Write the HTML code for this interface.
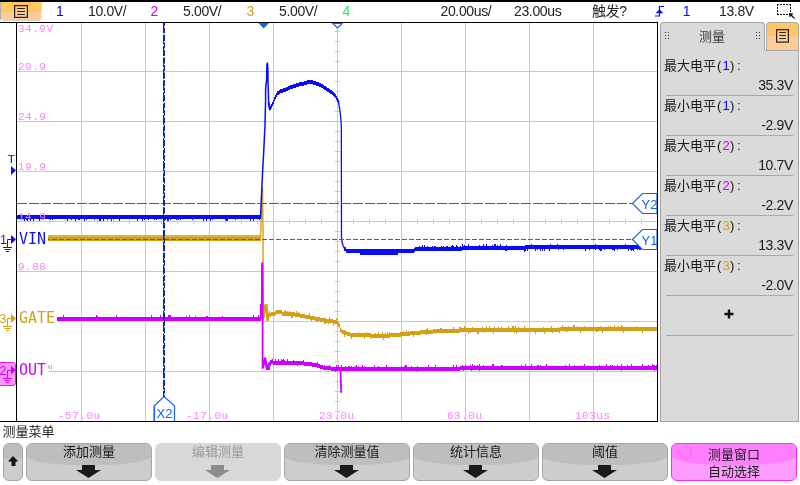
<!DOCTYPE html>
<html><head><meta charset="utf-8">
<style>
*{margin:0;padding:0;box-sizing:border-box}
html,body{width:800px;height:485px;overflow:hidden;background:#fff}
body{position:relative;font-family:"Liberation Sans","Noto Sans CJK SC",sans-serif}
.abs{position:absolute}
.mono{font-family:"Liberation Mono","DejaVu Sans Mono",monospace}
#panel{position:absolute;left:660px;top:50px;width:139px;height:372px;background:#dadada;border:1px solid #a4a4a4;border-top:none}
#tab{position:absolute;left:660px;top:22px;width:105px;height:29px;background:#dadada;border:1px solid #a4a4a4;border-bottom:none;border-radius:4px 4px 0 0}
#tab .t{position:absolute;left:38px;top:3px;font-size:13px;color:#3a3a3a;font-family:"Liberation Sans","Noto Sans CJK SC",sans-serif}
.grip{position:absolute;width:5px;height:8px;top:8px;
 background-image:radial-gradient(circle,#333 0.75px,transparent 0.95px);background-size:3px 3px}
#obtn{position:absolute;left:766px;top:22px;width:33px;height:28px;border:1px solid #a8a8a8;border-bottom:none;border-radius:4px 4px 0 0;
 background:linear-gradient(#ffc862 0,#ffc862 13px,#ffcc99 13px)}
.meas{position:absolute;left:5px;width:127px;height:40px;font-size:13px;color:#1a1a1a}
.meas .l{position:absolute;left:-2px;top:2px;line-height:17px;white-space:nowrap;font-family:"Liberation Sans","Noto Sans CJK SC",sans-serif}
.meas .v{position:absolute;right:0;top:22px;white-space:nowrap;font-size:14px;letter-spacing:-0.35px;line-height:17px}
.meas .sep{position:absolute;left:0;right:0;top:40px;height:1px;background:#a8a8a8}
.hw{display:inline-block;width:6.5px;text-align:center}
.btn{position:absolute;top:443px;width:126px;height:38px;border:1px solid #a6a6a6;border-radius:6px;overflow:hidden;
 background:#cdcdcd}
.btn::before{content:"";position:absolute;left:0;right:0;top:0;height:21px;border-radius:0 0 50px 50px/0 0 9px 9px;background:#bebebe}
.btn .tx{position:absolute;left:0;right:0;top:-3px;text-align:center;font-size:13px;color:#1a1a1a;font-family:"Liberation Sans","Noto Sans CJK SC",sans-serif}
.btn svg{position:absolute;left:50%;margin-left:-13px;top:21px}
.btn.up::before{height:15.5px;border-radius:0 0 9px 9px/0 0 3px 3px}
.btn.dis{border-color:#d8d8d8;background:#d8d8d8}
.btn.dis::before{display:none}
.btn.dis .tx{color:#9a9a9a}
.btn.pink{border-color:#f030f0;background:#ff9cff}
.btn.pink::before{background:#ff80ff}
</style></head><body>
<svg class="abs" style="left:0;top:0;font-family:'Liberation Sans','Noto Sans CJK SC',sans-serif" width="800" height="485" viewBox="0 0 800 485">
<!-- header -->
<rect x="0" y="0" width="800" height="2" fill="#000"/>
<rect x="0" y="22" width="658" height="1" fill="#000"/>
<!-- menu button -->
<path d="M0.5,2 H41.5 V17.5 Q41.5,20 39,20 H3 Q0.5,20 0.5,17.5 Z" fill="#ffcc99"/>
<rect x="0.5" y="2" width="41" height="10" fill="#ffc862"/>
<rect x="0" y="2" width="1" height="18" fill="#b0b0b0"/>
<rect x="2" y="20" width="38" height="1" fill="#d0d0d0"/>
<rect x="14.6" y="5.6" width="12.8" height="11.8" fill="none" stroke="#222" stroke-width="1.2"/>
<rect x="17.2" y="8" width="7.7" height="1" fill="#222"/>
<rect x="17.2" y="11" width="7.7" height="1" fill="#222"/>
<rect x="17.2" y="14" width="7.7" height="1" fill="#222"/>
<g font-size="14" fill="#222" letter-spacing="-0.35">
<text x="56" y="15.7" fill="#0000ff">1</text>
<text x="88" y="15.7">10.0V/</text>
<text x="150.5" y="15.7" fill="#cc00ff">2</text>
<text x="183" y="15.7">5.00V/</text>
<text x="246.5" y="15.7" fill="#d4a017">3</text>
<text x="279" y="15.7">5.00V/</text>
<text x="342.5" y="15.7" fill="#10f060">4</text>
<text x="440.5" y="15.7">20.00us/</text>
<text x="514" y="15.7">23.00us</text>
<text x="592" y="15.7">触发?</text>
<text x="682.8" y="15.7" fill="#0000ff">1</text>
<text x="719" y="15.7">13.8V</text>
</g>
<!-- trigger slope icon -->
<path d="M655,16 H659.5 V6.5 H664" fill="none" stroke="#0a0aff" stroke-width="1.2"/>
<path d="M655.6,13.2 L659.5,9.2 L663.4,13.2 Z" fill="#0a0aff"/>
<!-- zoom box icon -->
<g fill="#111"><rect x="777" y="4" width="2" height="1"/><rect x="777" y="14" width="2" height="1"/><rect x="780" y="4" width="2" height="1"/><rect x="780" y="14" width="2" height="1"/><rect x="783" y="4" width="2" height="1"/><rect x="783" y="14" width="2" height="1"/><rect x="786" y="4" width="2" height="1"/><rect x="786" y="14" width="2" height="1"/><rect x="789" y="4" width="2" height="1"/><rect x="777" y="4" width="1" height="2"/><rect x="777" y="7" width="1" height="2"/><rect x="777" y="10" width="1" height="2"/><rect x="777" y="13" width="1" height="2"/><rect x="790" y="4" width="1" height="2"/><rect x="790" y="7" width="1" height="2"/><rect x="790" y="10" width="1" height="2"/><path d="M789,13 L793.6,13.4 L789.4,17.6 Z"/></g>
<path d="M791,15 L794.6,18.6" stroke="#111" stroke-width="1.3"/>
<!-- graticule -->
<rect x="16" y="22" width="1" height="400" fill="#000"/>
<rect x="657" y="22" width="1" height="400" fill="#000"/>
<rect x="0" y="421" width="658" height="1" fill="#000"/>
<rect x="81" y="23" width="1" height="398" fill="#c8c8c8"/>
<rect x="145" y="23" width="1" height="398" fill="#c8c8c8"/>
<rect x="209" y="23" width="1" height="398" fill="#c8c8c8"/>
<rect x="273" y="23" width="1" height="398" fill="#c8c8c8"/>
<rect x="401" y="23" width="1" height="398" fill="#c8c8c8"/>
<rect x="465" y="23" width="1" height="398" fill="#c8c8c8"/>
<rect x="529" y="23" width="1" height="398" fill="#c8c8c8"/>
<rect x="593" y="23" width="1" height="398" fill="#c8c8c8"/>
<rect x="17" y="71" width="640" height="1" fill="#c8c8c8"/>
<rect x="17" y="121" width="640" height="1" fill="#c8c8c8"/>
<rect x="17" y="171" width="640" height="1" fill="#c8c8c8"/>
<rect x="17" y="271" width="640" height="1" fill="#c8c8c8"/>
<rect x="17" y="321" width="640" height="1" fill="#c8c8c8"/>
<rect x="17" y="371" width="640" height="1" fill="#c8c8c8"/>
<rect x="337" y="23" width="1" height="398" fill="#c8c8c8"/>
<rect x="17" y="221" width="640" height="1" fill="#c8c8c8"/>
<rect x="335" y="31" width="5" height="1" fill="#c8c8c8"/>
<rect x="335" y="41" width="5" height="1" fill="#c8c8c8"/>
<rect x="335" y="51" width="5" height="1" fill="#c8c8c8"/>
<rect x="335" y="61" width="5" height="1" fill="#c8c8c8"/>
<rect x="335" y="81" width="5" height="1" fill="#c8c8c8"/>
<rect x="335" y="91" width="5" height="1" fill="#c8c8c8"/>
<rect x="335" y="101" width="5" height="1" fill="#c8c8c8"/>
<rect x="335" y="111" width="5" height="1" fill="#c8c8c8"/>
<rect x="335" y="131" width="5" height="1" fill="#c8c8c8"/>
<rect x="335" y="141" width="5" height="1" fill="#c8c8c8"/>
<rect x="335" y="151" width="5" height="1" fill="#c8c8c8"/>
<rect x="335" y="161" width="5" height="1" fill="#c8c8c8"/>
<rect x="335" y="181" width="5" height="1" fill="#c8c8c8"/>
<rect x="335" y="191" width="5" height="1" fill="#c8c8c8"/>
<rect x="335" y="201" width="5" height="1" fill="#c8c8c8"/>
<rect x="335" y="211" width="5" height="1" fill="#c8c8c8"/>
<rect x="335" y="231" width="5" height="1" fill="#c8c8c8"/>
<rect x="335" y="241" width="5" height="1" fill="#c8c8c8"/>
<rect x="335" y="251" width="5" height="1" fill="#c8c8c8"/>
<rect x="335" y="261" width="5" height="1" fill="#c8c8c8"/>
<rect x="335" y="281" width="5" height="1" fill="#c8c8c8"/>
<rect x="335" y="291" width="5" height="1" fill="#c8c8c8"/>
<rect x="335" y="301" width="5" height="1" fill="#c8c8c8"/>
<rect x="335" y="311" width="5" height="1" fill="#c8c8c8"/>
<rect x="335" y="331" width="5" height="1" fill="#c8c8c8"/>
<rect x="335" y="341" width="5" height="1" fill="#c8c8c8"/>
<rect x="335" y="351" width="5" height="1" fill="#c8c8c8"/>
<rect x="335" y="361" width="5" height="1" fill="#c8c8c8"/>
<rect x="335" y="381" width="5" height="1" fill="#c8c8c8"/>
<rect x="335" y="391" width="5" height="1" fill="#c8c8c8"/>
<rect x="335" y="401" width="5" height="1" fill="#c8c8c8"/>
<rect x="335" y="411" width="5" height="1" fill="#c8c8c8"/>
<rect x="33" y="219" width="1" height="5" fill="#c8c8c8"/>
<rect x="49" y="219" width="1" height="5" fill="#c8c8c8"/>
<rect x="65" y="219" width="1" height="5" fill="#c8c8c8"/>
<rect x="97" y="219" width="1" height="5" fill="#c8c8c8"/>
<rect x="113" y="219" width="1" height="5" fill="#c8c8c8"/>
<rect x="129" y="219" width="1" height="5" fill="#c8c8c8"/>
<rect x="161" y="219" width="1" height="5" fill="#c8c8c8"/>
<rect x="177" y="219" width="1" height="5" fill="#c8c8c8"/>
<rect x="193" y="219" width="1" height="5" fill="#c8c8c8"/>
<rect x="225" y="219" width="1" height="5" fill="#c8c8c8"/>
<rect x="241" y="219" width="1" height="5" fill="#c8c8c8"/>
<rect x="257" y="219" width="1" height="5" fill="#c8c8c8"/>
<rect x="289" y="219" width="1" height="5" fill="#c8c8c8"/>
<rect x="305" y="219" width="1" height="5" fill="#c8c8c8"/>
<rect x="321" y="219" width="1" height="5" fill="#c8c8c8"/>
<rect x="353" y="219" width="1" height="5" fill="#c8c8c8"/>
<rect x="369" y="219" width="1" height="5" fill="#c8c8c8"/>
<rect x="385" y="219" width="1" height="5" fill="#c8c8c8"/>
<rect x="417" y="219" width="1" height="5" fill="#c8c8c8"/>
<rect x="433" y="219" width="1" height="5" fill="#c8c8c8"/>
<rect x="449" y="219" width="1" height="5" fill="#c8c8c8"/>
<rect x="481" y="219" width="1" height="5" fill="#c8c8c8"/>
<rect x="497" y="219" width="1" height="5" fill="#c8c8c8"/>
<rect x="513" y="219" width="1" height="5" fill="#c8c8c8"/>
<rect x="545" y="219" width="1" height="5" fill="#c8c8c8"/>
<rect x="561" y="219" width="1" height="5" fill="#c8c8c8"/>
<rect x="577" y="219" width="1" height="5" fill="#c8c8c8"/>
<rect x="609" y="219" width="1" height="5" fill="#c8c8c8"/>
<rect x="625" y="219" width="1" height="5" fill="#c8c8c8"/>
<rect x="641" y="219" width="1" height="5" fill="#c8c8c8"/>
<rect x="57" y="321" width="204" height="1" fill="#d6e4d6"/>
<g fill="#d4a017">
<rect x="48" y="235" width="213" height="6"/>
<rect x="268" y="313" width="1" height="4"/>
<rect x="269" y="311" width="1" height="6"/>
<rect x="270" y="313" width="1" height="4"/>
<rect x="271" y="312" width="4" height="4"/>
<rect x="275" y="311" width="1" height="4"/>
<rect x="276" y="310" width="6" height="4"/>
<rect x="282" y="312" width="2" height="4"/>
<rect x="284" y="311" width="1" height="5"/>
<rect x="285" y="310" width="1" height="6"/>
<rect x="286" y="312" width="1" height="4"/>
<rect x="287" y="311" width="1" height="5"/>
<rect x="288" y="312" width="1" height="4"/>
<rect x="289" y="311" width="1" height="5"/>
<rect x="290" y="312" width="1" height="4"/>
<rect x="291" y="312" width="2" height="6"/>
<rect x="293" y="312" width="2" height="4"/>
<rect x="295" y="313" width="1" height="4"/>
<rect x="296" y="311" width="1" height="6"/>
<rect x="297" y="313" width="1" height="4"/>
<rect x="298" y="312" width="1" height="5"/>
<rect x="299" y="313" width="1" height="4"/>
<rect x="300" y="314" width="5" height="4"/>
<rect x="305" y="315" width="4" height="4"/>
<rect x="309" y="313" width="1" height="6"/>
<rect x="310" y="316" width="1" height="4"/>
<rect x="311" y="316" width="1" height="5"/>
<rect x="312" y="316" width="3" height="4"/>
<rect x="315" y="317" width="2" height="4"/>
<rect x="317" y="317" width="1" height="5"/>
<rect x="318" y="317" width="2" height="4"/>
<rect x="320" y="318" width="4" height="4"/>
<rect x="324" y="318" width="2" height="6"/>
<rect x="326" y="319" width="2" height="4"/>
<rect x="328" y="319" width="1" height="5"/>
<rect x="329" y="317" width="1" height="6"/>
<rect x="330" y="319" width="3" height="4"/>
<rect x="333" y="320" width="1" height="6"/>
<rect x="334" y="320" width="2" height="4"/>
<rect x="336" y="318" width="1" height="6"/>
<rect x="337" y="321" width="1" height="4"/>
<rect x="338" y="322" width="1" height="5"/>
<rect x="339" y="324" width="1" height="4"/>
<rect x="340" y="328" width="1" height="4"/>
<rect x="341" y="329" width="1" height="4"/>
<rect x="342" y="330" width="2" height="4"/>
<rect x="344" y="330" width="1" height="7"/>
<rect x="345" y="331" width="2" height="4"/>
<rect x="347" y="332" width="3" height="4"/>
<rect x="350" y="333" width="1" height="4"/>
<rect x="351" y="333" width="1" height="6"/>
<rect x="352" y="333" width="6" height="4"/>
<rect x="358" y="332" width="1" height="5"/>
<rect x="359" y="333" width="5" height="4"/>
<rect x="364" y="333" width="1" height="6"/>
<rect x="365" y="333" width="1" height="4"/>
<rect x="366" y="332" width="1" height="5"/>
<rect x="367" y="333" width="3" height="4"/>
<rect x="370" y="333" width="1" height="6"/>
<rect x="371" y="334" width="4" height="4"/>
<rect x="375" y="333" width="1" height="5"/>
<rect x="376" y="334" width="2" height="4"/>
<rect x="378" y="332" width="1" height="6"/>
<rect x="379" y="334" width="3" height="4"/>
<rect x="382" y="332" width="1" height="6"/>
<rect x="383" y="334" width="1" height="6"/>
<rect x="384" y="334" width="1" height="4"/>
<rect x="385" y="333" width="1" height="5"/>
<rect x="386" y="334" width="1" height="4"/>
<rect x="387" y="332" width="1" height="6"/>
<rect x="388" y="334" width="1" height="4"/>
<rect x="389" y="332" width="1" height="6"/>
<rect x="390" y="333" width="10" height="4"/>
<rect x="400" y="332" width="1" height="5"/>
<rect x="401" y="332" width="2" height="4"/>
<rect x="403" y="331" width="1" height="5"/>
<rect x="404" y="332" width="2" height="4"/>
<rect x="406" y="330" width="1" height="6"/>
<rect x="407" y="332" width="1" height="4"/>
<rect x="408" y="331" width="1" height="5"/>
<rect x="409" y="332" width="1" height="4"/>
<rect x="410" y="331" width="3" height="4"/>
<rect x="413" y="331" width="1" height="6"/>
<rect x="414" y="331" width="6" height="4"/>
<rect x="420" y="330" width="1" height="5"/>
<rect x="421" y="330" width="5" height="4"/>
<rect x="426" y="329" width="1" height="6"/>
<rect x="427" y="328" width="1" height="6"/>
<rect x="428" y="330" width="5" height="4"/>
<rect x="433" y="329" width="2" height="4"/>
<rect x="435" y="329" width="1" height="5"/>
<rect x="436" y="329" width="4" height="4"/>
<rect x="440" y="328" width="2" height="5"/>
<rect x="442" y="329" width="11" height="4"/>
<rect x="453" y="327" width="1" height="6"/>
<rect x="454" y="329" width="5" height="4"/>
<rect x="459" y="327" width="1" height="6"/>
<rect x="460" y="327" width="1" height="5"/>
<rect x="461" y="328" width="3" height="4"/>
<rect x="464" y="326" width="1" height="6"/>
<rect x="465" y="328" width="3" height="4"/>
<rect x="468" y="328" width="1" height="6"/>
<rect x="469" y="328" width="1" height="4"/>
<rect x="470" y="328" width="1" height="5"/>
<rect x="471" y="328" width="1" height="4"/>
<rect x="472" y="327" width="1" height="5"/>
<rect x="473" y="328" width="4" height="4"/>
<rect x="477" y="328" width="2" height="6"/>
<rect x="479" y="328" width="3" height="4"/>
<rect x="482" y="327" width="1" height="5"/>
<rect x="483" y="328" width="1" height="4"/>
<rect x="484" y="328" width="1" height="5"/>
<rect x="485" y="328" width="1" height="4"/>
<rect x="486" y="326" width="1" height="6"/>
<rect x="487" y="328" width="2" height="4"/>
<rect x="489" y="326" width="1" height="6"/>
<rect x="490" y="328" width="3" height="4"/>
<rect x="493" y="328" width="1" height="6"/>
<rect x="494" y="327" width="1" height="5"/>
<rect x="495" y="328" width="3" height="4"/>
<rect x="498" y="327" width="1" height="5"/>
<rect x="499" y="328" width="2" height="4"/>
<rect x="501" y="327" width="1" height="5"/>
<rect x="502" y="328" width="6" height="4"/>
<rect x="508" y="326" width="1" height="6"/>
<rect x="509" y="328" width="3" height="4"/>
<rect x="512" y="326" width="2" height="6"/>
<rect x="514" y="328" width="1" height="5"/>
<rect x="515" y="326" width="1" height="6"/>
<rect x="516" y="328" width="1" height="6"/>
<rect x="517" y="328" width="1" height="4"/>
<rect x="518" y="327" width="1" height="5"/>
<rect x="519" y="328" width="5" height="4"/>
<rect x="524" y="326" width="1" height="6"/>
<rect x="525" y="328" width="10" height="4"/>
<rect x="535" y="328" width="1" height="6"/>
<rect x="536" y="328" width="7" height="4"/>
<rect x="543" y="327" width="1" height="5"/>
<rect x="544" y="328" width="1" height="6"/>
<rect x="545" y="328" width="6" height="4"/>
<rect x="551" y="326" width="1" height="6"/>
<rect x="552" y="328" width="1" height="5"/>
<rect x="553" y="328" width="5" height="4"/>
<rect x="558" y="327" width="1" height="5"/>
<rect x="559" y="328" width="1" height="5"/>
<rect x="560" y="327" width="2" height="4"/>
<rect x="562" y="325" width="1" height="6"/>
<rect x="563" y="327" width="2" height="4"/>
<rect x="565" y="327" width="1" height="5"/>
<rect x="566" y="327" width="1" height="4"/>
<rect x="567" y="327" width="1" height="5"/>
<rect x="568" y="326" width="1" height="5"/>
<rect x="569" y="327" width="4" height="4"/>
<rect x="573" y="325" width="2" height="6"/>
<rect x="575" y="327" width="2" height="4"/>
<rect x="577" y="326" width="1" height="5"/>
<rect x="578" y="327" width="2" height="4"/>
<rect x="580" y="327" width="1" height="6"/>
<rect x="581" y="327" width="3" height="4"/>
<rect x="584" y="326" width="1" height="5"/>
<rect x="585" y="327" width="8" height="4"/>
<rect x="593" y="326" width="1" height="5"/>
<rect x="594" y="327" width="2" height="4"/>
<rect x="596" y="327" width="2" height="5"/>
<rect x="598" y="327" width="2" height="4"/>
<rect x="600" y="326" width="1" height="5"/>
<rect x="601" y="327" width="1" height="4"/>
<rect x="602" y="327" width="1" height="6"/>
<rect x="603" y="327" width="5" height="4"/>
<rect x="608" y="326" width="1" height="5"/>
<rect x="609" y="327" width="1" height="4"/>
<rect x="610" y="326" width="1" height="5"/>
<rect x="611" y="327" width="3" height="4"/>
<rect x="614" y="325" width="1" height="6"/>
<rect x="615" y="327" width="3" height="4"/>
<rect x="618" y="326" width="1" height="5"/>
<rect x="619" y="327" width="2" height="4"/>
<rect x="621" y="325" width="1" height="6"/>
<rect x="622" y="326" width="1" height="5"/>
<rect x="623" y="327" width="1" height="6"/>
<rect x="624" y="327" width="12" height="4"/>
<rect x="636" y="326" width="1" height="5"/>
<rect x="637" y="327" width="5" height="4"/>
<rect x="642" y="327" width="1" height="6"/>
<rect x="643" y="327" width="14" height="4"/>
</g>
<rect x="48" y="235" width="213" height="2" fill="#dcb040"/>
<polyline points="260.5,238 261,225 261.6,215 262,188 262.5,188 263,230 263.3,320" fill="none" stroke="#d4a017" stroke-width="1.4" stroke-linejoin="round" stroke-linecap="round"/>
<polyline points="263.2,318 264.5,310 265.5,305 266.3,305 267,312 267.6,320 268,315" fill="none" stroke="#d4a017" stroke-width="2.6" stroke-linejoin="round" stroke-linecap="round"/>
<g fill="#cc00ff">
<rect x="57" y="317" width="6" height="4"/>
<rect x="63" y="315" width="1" height="6"/>
<rect x="64" y="317" width="32" height="4"/>
<rect x="96" y="315" width="1" height="6"/>
<rect x="97" y="316" width="1" height="5"/>
<rect x="98" y="317" width="18" height="4"/>
<rect x="116" y="315" width="1" height="6"/>
<rect x="117" y="317" width="34" height="4"/>
<rect x="151" y="315" width="1" height="6"/>
<rect x="152" y="317" width="8" height="4"/>
<rect x="160" y="315" width="1" height="6"/>
<rect x="161" y="317" width="7" height="4"/>
<rect x="168" y="315" width="3" height="6"/>
<rect x="171" y="317" width="15" height="4"/>
<rect x="186" y="316" width="1" height="5"/>
<rect x="187" y="317" width="2" height="4"/>
<rect x="189" y="315" width="1" height="6"/>
<rect x="190" y="317" width="5" height="4"/>
<rect x="195" y="316" width="1" height="5"/>
<rect x="196" y="317" width="10" height="4"/>
<rect x="206" y="316" width="2" height="5"/>
<rect x="208" y="317" width="14" height="4"/>
<rect x="222" y="316" width="1" height="5"/>
<rect x="223" y="317" width="30" height="4"/>
<rect x="253" y="315" width="1" height="6"/>
<rect x="254" y="317" width="4" height="4"/>
<rect x="258" y="315" width="1" height="6"/>
<rect x="259" y="317" width="2" height="4"/>
<rect x="268" y="366" width="2" height="4"/>
<rect x="270" y="360" width="1" height="6"/>
<rect x="271" y="360" width="1" height="4"/>
<rect x="272" y="359" width="1" height="5"/>
<rect x="273" y="361" width="2" height="4"/>
<rect x="275" y="359" width="1" height="6"/>
<rect x="276" y="361" width="2" height="4"/>
<rect x="278" y="359" width="1" height="6"/>
<rect x="279" y="361" width="2" height="4"/>
<rect x="281" y="359" width="1" height="6"/>
<rect x="282" y="360" width="1" height="5"/>
<rect x="283" y="359" width="1" height="6"/>
<rect x="284" y="360" width="1" height="5"/>
<rect x="285" y="361" width="2" height="4"/>
<rect x="287" y="359" width="1" height="6"/>
<rect x="288" y="361" width="5" height="4"/>
<rect x="293" y="360" width="1" height="5"/>
<rect x="294" y="361" width="3" height="4"/>
<rect x="297" y="361" width="1" height="5"/>
<rect x="298" y="361" width="5" height="4"/>
<rect x="303" y="360" width="1" height="5"/>
<rect x="304" y="362" width="8" height="4"/>
<rect x="312" y="363" width="5" height="4"/>
<rect x="317" y="362" width="1" height="6"/>
<rect x="318" y="364" width="2" height="4"/>
<rect x="320" y="365" width="3" height="4"/>
<rect x="323" y="366" width="1" height="4"/>
<rect x="324" y="365" width="1" height="5"/>
<rect x="325" y="366" width="4" height="4"/>
<rect x="329" y="365" width="1" height="5"/>
<rect x="330" y="366" width="1" height="4"/>
<rect x="331" y="367" width="4" height="4"/>
<rect x="335" y="367" width="1" height="5"/>
<rect x="336" y="365" width="1" height="6"/>
<rect x="337" y="367" width="1" height="4"/>
<rect x="338" y="365" width="1" height="6"/>
<rect x="339" y="367" width="2" height="4"/>
<rect x="341" y="365" width="1" height="6"/>
<rect x="342" y="367" width="3" height="4"/>
<rect x="345" y="366" width="1" height="5"/>
<rect x="346" y="367" width="2" height="4"/>
<rect x="348" y="366" width="2" height="5"/>
<rect x="350" y="367" width="1" height="4"/>
<rect x="351" y="366" width="1" height="5"/>
<rect x="352" y="367" width="3" height="4"/>
<rect x="355" y="366" width="1" height="5"/>
<rect x="356" y="365" width="1" height="6"/>
<rect x="357" y="367" width="1" height="4"/>
<rect x="358" y="366" width="1" height="5"/>
<rect x="359" y="367" width="3" height="4"/>
<rect x="362" y="365" width="1" height="6"/>
<rect x="363" y="367" width="1" height="4"/>
<rect x="364" y="366" width="1" height="5"/>
<rect x="365" y="367" width="9" height="4"/>
<rect x="374" y="365" width="1" height="6"/>
<rect x="375" y="367" width="3" height="4"/>
<rect x="378" y="366" width="1" height="5"/>
<rect x="379" y="367" width="7" height="4"/>
<rect x="386" y="365" width="1" height="6"/>
<rect x="387" y="367" width="14" height="4"/>
<rect x="401" y="366" width="1" height="5"/>
<rect x="402" y="367" width="2" height="4"/>
<rect x="404" y="366" width="1" height="5"/>
<rect x="405" y="365" width="2" height="6"/>
<rect x="407" y="367" width="4" height="4"/>
<rect x="411" y="366" width="1" height="5"/>
<rect x="412" y="367" width="5" height="4"/>
<rect x="417" y="366" width="1" height="6"/>
<rect x="418" y="367" width="10" height="4"/>
<rect x="428" y="365" width="1" height="6"/>
<rect x="429" y="367" width="6" height="4"/>
<rect x="435" y="365" width="1" height="6"/>
<rect x="436" y="367" width="17" height="4"/>
<rect x="453" y="365" width="1" height="6"/>
<rect x="454" y="367" width="2" height="4"/>
<rect x="456" y="365" width="1" height="6"/>
<rect x="457" y="367" width="3" height="4"/>
<rect x="460" y="366" width="2" height="4"/>
<rect x="462" y="365" width="1" height="5"/>
<rect x="463" y="366" width="1" height="5"/>
<rect x="464" y="366" width="1" height="4"/>
<rect x="465" y="365" width="1" height="5"/>
<rect x="466" y="366" width="4" height="4"/>
<rect x="470" y="365" width="1" height="5"/>
<rect x="471" y="366" width="1" height="5"/>
<rect x="472" y="364" width="1" height="6"/>
<rect x="473" y="366" width="1" height="4"/>
<rect x="474" y="365" width="1" height="5"/>
<rect x="475" y="366" width="2" height="4"/>
<rect x="477" y="365" width="1" height="5"/>
<rect x="478" y="366" width="1" height="4"/>
<rect x="479" y="364" width="1" height="7"/>
<rect x="480" y="366" width="3" height="4"/>
<rect x="483" y="365" width="1" height="5"/>
<rect x="484" y="366" width="8" height="4"/>
<rect x="492" y="364" width="2" height="6"/>
<rect x="494" y="366" width="7" height="4"/>
<rect x="501" y="365" width="2" height="5"/>
<rect x="503" y="366" width="18" height="4"/>
<rect x="521" y="365" width="1" height="5"/>
<rect x="522" y="366" width="3" height="4"/>
<rect x="525" y="364" width="1" height="6"/>
<rect x="526" y="366" width="5" height="4"/>
<rect x="531" y="364" width="1" height="6"/>
<rect x="532" y="366" width="5" height="4"/>
<rect x="537" y="365" width="2" height="5"/>
<rect x="539" y="366" width="1" height="4"/>
<rect x="540" y="365" width="1" height="5"/>
<rect x="541" y="366" width="5" height="4"/>
<rect x="546" y="364" width="1" height="6"/>
<rect x="547" y="366" width="18" height="4"/>
<rect x="565" y="365" width="1" height="5"/>
<rect x="566" y="366" width="3" height="4"/>
<rect x="569" y="364" width="1" height="6"/>
<rect x="570" y="366" width="4" height="4"/>
<rect x="574" y="365" width="1" height="5"/>
<rect x="575" y="366" width="9" height="4"/>
<rect x="584" y="364" width="1" height="6"/>
<rect x="585" y="366" width="12" height="4"/>
<rect x="597" y="366" width="1" height="5"/>
<rect x="598" y="366" width="1" height="4"/>
<rect x="599" y="365" width="1" height="5"/>
<rect x="600" y="366" width="6" height="4"/>
<rect x="606" y="364" width="1" height="6"/>
<rect x="607" y="366" width="3" height="4"/>
<rect x="610" y="365" width="1" height="5"/>
<rect x="611" y="366" width="1" height="4"/>
<rect x="612" y="365" width="1" height="5"/>
<rect x="613" y="366" width="4" height="4"/>
<rect x="617" y="365" width="1" height="5"/>
<rect x="618" y="366" width="3" height="4"/>
<rect x="621" y="364" width="1" height="7"/>
<rect x="622" y="366" width="5" height="4"/>
<rect x="627" y="365" width="1" height="5"/>
<rect x="628" y="366" width="3" height="4"/>
<rect x="631" y="364" width="1" height="6"/>
<rect x="632" y="366" width="10" height="4"/>
<rect x="642" y="364" width="1" height="6"/>
<rect x="643" y="366" width="5" height="4"/>
<rect x="648" y="365" width="1" height="5"/>
<rect x="649" y="366" width="3" height="4"/>
<rect x="652" y="364" width="1" height="6"/>
<rect x="653" y="365" width="1" height="5"/>
<rect x="654" y="365" width="1" height="6"/>
<rect x="655" y="366" width="1" height="4"/>
<rect x="656" y="365" width="1" height="5"/>
</g>
<polyline points="260.7,318 260.7,305 261.8,304 262,264 262.3,263 262.6,300 262.6,368" fill="none" stroke="#cc00ff" stroke-width="1.8" stroke-linejoin="round" stroke-linecap="round"/>
<polyline points="263,367 264,362 265,358.5 266,364 267,369 268,366 270,362.5" fill="none" stroke="#cc00ff" stroke-width="2.4" stroke-linejoin="round" stroke-linecap="round"/>
<polyline points="340.5,369 340.8,380 341.2,392" fill="none" stroke="#cc00ff" stroke-width="1.8" stroke-linejoin="round" stroke-linecap="round"/>
<g fill="#0a0aff">
<rect x="17" y="215" width="7" height="4"/>
<rect x="24" y="215" width="1" height="6"/>
<rect x="25" y="215" width="1" height="4"/>
<rect x="26" y="215" width="1" height="5"/>
<rect x="27" y="215" width="1" height="6"/>
<rect x="28" y="215" width="2" height="4"/>
<rect x="30" y="215" width="1" height="6"/>
<rect x="31" y="215" width="2" height="4"/>
<rect x="33" y="215" width="1" height="6"/>
<rect x="34" y="215" width="5" height="4"/>
<rect x="39" y="215" width="1" height="6"/>
<rect x="40" y="215" width="10" height="4"/>
<rect x="50" y="215" width="1" height="5"/>
<rect x="51" y="215" width="1" height="4"/>
<rect x="52" y="215" width="1" height="5"/>
<rect x="53" y="215" width="14" height="4"/>
<rect x="67" y="215" width="1" height="6"/>
<rect x="68" y="215" width="3" height="4"/>
<rect x="71" y="215" width="1" height="5"/>
<rect x="72" y="215" width="3" height="4"/>
<rect x="75" y="215" width="1" height="6"/>
<rect x="76" y="215" width="2" height="4"/>
<rect x="78" y="215" width="2" height="5"/>
<rect x="80" y="215" width="4" height="4"/>
<rect x="84" y="215" width="1" height="6"/>
<rect x="85" y="215" width="1" height="4"/>
<rect x="86" y="215" width="1" height="5"/>
<rect x="87" y="215" width="7" height="4"/>
<rect x="94" y="215" width="1" height="5"/>
<rect x="95" y="215" width="4" height="4"/>
<rect x="99" y="215" width="2" height="6"/>
<rect x="101" y="215" width="2" height="4"/>
<rect x="103" y="215" width="1" height="6"/>
<rect x="104" y="215" width="3" height="4"/>
<rect x="107" y="215" width="1" height="5"/>
<rect x="108" y="215" width="3" height="4"/>
<rect x="111" y="215" width="1" height="6"/>
<rect x="112" y="215" width="7" height="4"/>
<rect x="119" y="215" width="1" height="6"/>
<rect x="120" y="215" width="17" height="4"/>
<rect x="137" y="215" width="1" height="6"/>
<rect x="138" y="215" width="4" height="4"/>
<rect x="142" y="215" width="1" height="6"/>
<rect x="143" y="215" width="1" height="4"/>
<rect x="144" y="215" width="1" height="5"/>
<rect x="145" y="215" width="3" height="4"/>
<rect x="148" y="215" width="1" height="5"/>
<rect x="149" y="215" width="5" height="4"/>
<rect x="154" y="215" width="1" height="5"/>
<rect x="155" y="215" width="1" height="4"/>
<rect x="156" y="215" width="1" height="5"/>
<rect x="157" y="215" width="8" height="4"/>
<rect x="165" y="215" width="1" height="5"/>
<rect x="166" y="215" width="1" height="4"/>
<rect x="167" y="215" width="2" height="6"/>
<rect x="169" y="215" width="1" height="4"/>
<rect x="170" y="215" width="1" height="5"/>
<rect x="171" y="215" width="5" height="4"/>
<rect x="176" y="215" width="1" height="5"/>
<rect x="177" y="215" width="1" height="4"/>
<rect x="178" y="215" width="1" height="5"/>
<rect x="179" y="215" width="1" height="4"/>
<rect x="180" y="215" width="1" height="5"/>
<rect x="181" y="215" width="11" height="4"/>
<rect x="192" y="215" width="1" height="5"/>
<rect x="193" y="215" width="10" height="4"/>
<rect x="203" y="215" width="1" height="6"/>
<rect x="204" y="215" width="2" height="4"/>
<rect x="206" y="215" width="1" height="6"/>
<rect x="207" y="215" width="3" height="4"/>
<rect x="210" y="215" width="1" height="6"/>
<rect x="211" y="215" width="1" height="4"/>
<rect x="212" y="215" width="1" height="5"/>
<rect x="213" y="215" width="12" height="4"/>
<rect x="225" y="215" width="1" height="5"/>
<rect x="226" y="215" width="2" height="6"/>
<rect x="228" y="215" width="7" height="4"/>
<rect x="235" y="215" width="1" height="5"/>
<rect x="236" y="215" width="14" height="4"/>
<rect x="250" y="215" width="1" height="6"/>
<rect x="251" y="215" width="2" height="4"/>
<rect x="253" y="215" width="1" height="6"/>
<rect x="254" y="215" width="5" height="4"/>
<rect x="259" y="215" width="1" height="5"/>
<rect x="260" y="215" width="1" height="4"/>
<rect x="344" y="247" width="2" height="4"/>
<rect x="346" y="249" width="14" height="4"/>
<rect x="360" y="249" width="38" height="6"/>
<rect x="398" y="249" width="16" height="4"/>
<rect x="414" y="248" width="1" height="4"/>
<rect x="415" y="247" width="4" height="4"/>
<rect x="419" y="246" width="1" height="5"/>
<rect x="420" y="247" width="2" height="4"/>
<rect x="422" y="245" width="1" height="6"/>
<rect x="423" y="247" width="1" height="4"/>
<rect x="424" y="245" width="1" height="6"/>
<rect x="425" y="247" width="2" height="4"/>
<rect x="427" y="246" width="1" height="5"/>
<rect x="428" y="247" width="4" height="4"/>
<rect x="432" y="246" width="1" height="5"/>
<rect x="433" y="247" width="1" height="4"/>
<rect x="434" y="246" width="2" height="5"/>
<rect x="436" y="247" width="5" height="4"/>
<rect x="441" y="246" width="1" height="5"/>
<rect x="442" y="247" width="1" height="4"/>
<rect x="443" y="246" width="1" height="5"/>
<rect x="444" y="247" width="2" height="4"/>
<rect x="446" y="246" width="2" height="5"/>
<rect x="448" y="247" width="3" height="4"/>
<rect x="451" y="246" width="1" height="5"/>
<rect x="452" y="245" width="1" height="6"/>
<rect x="453" y="246" width="1" height="5"/>
<rect x="454" y="247" width="2" height="4"/>
<rect x="456" y="245" width="1" height="6"/>
<rect x="457" y="246" width="1" height="5"/>
<rect x="458" y="247" width="2" height="4"/>
<rect x="460" y="246" width="1" height="5"/>
<rect x="461" y="247" width="1" height="4"/>
<rect x="462" y="244" width="1" height="6"/>
<rect x="463" y="246" width="1" height="4"/>
<rect x="464" y="245" width="1" height="5"/>
<rect x="465" y="246" width="3" height="4"/>
<rect x="468" y="244" width="1" height="6"/>
<rect x="469" y="246" width="10" height="4"/>
<rect x="479" y="245" width="1" height="5"/>
<rect x="480" y="246" width="3" height="4"/>
<rect x="483" y="244" width="1" height="6"/>
<rect x="484" y="246" width="2" height="4"/>
<rect x="486" y="244" width="1" height="6"/>
<rect x="487" y="246" width="5" height="4"/>
<rect x="492" y="245" width="1" height="5"/>
<rect x="493" y="246" width="1" height="4"/>
<rect x="494" y="244" width="2" height="6"/>
<rect x="496" y="246" width="1" height="4"/>
<rect x="497" y="245" width="1" height="5"/>
<rect x="498" y="246" width="2" height="4"/>
<rect x="500" y="244" width="1" height="6"/>
<rect x="501" y="246" width="4" height="4"/>
<rect x="505" y="246" width="1" height="5"/>
<rect x="506" y="245" width="1" height="6"/>
<rect x="507" y="246" width="17" height="4"/>
<rect x="524" y="246" width="1" height="6"/>
<rect x="525" y="245" width="1" height="6"/>
<rect x="526" y="245" width="1" height="4"/>
<rect x="527" y="245" width="1" height="6"/>
<rect x="528" y="245" width="3" height="4"/>
<rect x="531" y="244" width="1" height="5"/>
<rect x="532" y="245" width="3" height="4"/>
<rect x="535" y="245" width="1" height="6"/>
<rect x="536" y="245" width="1" height="4"/>
<rect x="537" y="245" width="1" height="5"/>
<rect x="538" y="245" width="2" height="4"/>
<rect x="540" y="245" width="1" height="6"/>
<rect x="541" y="245" width="1" height="4"/>
<rect x="542" y="245" width="1" height="6"/>
<rect x="543" y="245" width="1" height="4"/>
<rect x="544" y="245" width="1" height="6"/>
<rect x="545" y="245" width="4" height="4"/>
<rect x="549" y="245" width="1" height="6"/>
<rect x="550" y="244" width="1" height="5"/>
<rect x="551" y="245" width="6" height="4"/>
<rect x="557" y="244" width="1" height="5"/>
<rect x="558" y="245" width="1" height="5"/>
<rect x="559" y="245" width="4" height="4"/>
<rect x="563" y="245" width="1" height="5"/>
<rect x="564" y="245" width="21" height="4"/>
<rect x="585" y="245" width="1" height="6"/>
<rect x="586" y="245" width="3" height="4"/>
<rect x="589" y="245" width="1" height="5"/>
<rect x="590" y="245" width="5" height="4"/>
<rect x="595" y="244" width="1" height="6"/>
<rect x="596" y="245" width="3" height="4"/>
<rect x="599" y="245" width="1" height="5"/>
<rect x="600" y="245" width="2" height="6"/>
<rect x="602" y="245" width="2" height="4"/>
<rect x="604" y="245" width="1" height="5"/>
<rect x="605" y="245" width="7" height="4"/>
<rect x="612" y="245" width="2" height="5"/>
<rect x="614" y="245" width="1" height="6"/>
<rect x="615" y="245" width="2" height="4"/>
<rect x="617" y="245" width="1" height="5"/>
<rect x="618" y="245" width="7" height="4"/>
<rect x="625" y="244" width="1" height="5"/>
<rect x="626" y="245" width="2" height="4"/>
<rect x="628" y="245" width="1" height="6"/>
<rect x="629" y="245" width="1" height="4"/>
<rect x="630" y="245" width="1" height="5"/>
<rect x="631" y="245" width="1" height="6"/>
<rect x="632" y="245" width="1" height="5"/>
<rect x="633" y="245" width="1" height="6"/>
<rect x="634" y="245" width="3" height="4"/>
<rect x="637" y="245" width="1" height="5"/>
<rect x="638" y="245" width="1" height="4"/>
<rect x="639" y="245" width="2" height="5"/>
<rect x="641" y="245" width="1" height="4"/>
</g>
<polyline points="260.5,217 261.3,200 262.7,170 263.8,150 265,125 265.6,100 265.6,88.4 266.6,80 266.9,64 267.4,63.1 267.9,70 268,81.6 268.7,103.3 269.9,109.4" fill="none" stroke="#0a0aff" stroke-width="1.5" stroke-linejoin="round" stroke-linecap="round"/>
<g fill="#0a0aff">
<rect x="270" y="106" width="1" height="4"/>
<rect x="271" y="104" width="1" height="4"/>
<rect x="272" y="102" width="1" height="4"/>
<rect x="273" y="100" width="1" height="4"/>
<rect x="274" y="97" width="1" height="4"/>
<rect x="275" y="95" width="1" height="4"/>
<rect x="276" y="93" width="1" height="4"/>
<rect x="277" y="91" width="2" height="4"/>
<rect x="279" y="90" width="1" height="4"/>
<rect x="280" y="89" width="3" height="4"/>
<rect x="283" y="88" width="3" height="4"/>
<rect x="286" y="87" width="2" height="4"/>
<rect x="288" y="86" width="2" height="4"/>
<rect x="290" y="85" width="3" height="4"/>
<rect x="293" y="84" width="3" height="4"/>
<rect x="296" y="83" width="3" height="4"/>
<rect x="299" y="82" width="5" height="4"/>
<rect x="304" y="81" width="3" height="4"/>
<rect x="307" y="80" width="6" height="4"/>
<rect x="313" y="81" width="3" height="4"/>
<rect x="316" y="82" width="3" height="4"/>
<rect x="319" y="83" width="2" height="4"/>
<rect x="321" y="84" width="2" height="4"/>
<rect x="323" y="85" width="1" height="4"/>
<rect x="324" y="86" width="2" height="4"/>
<rect x="326" y="87" width="1" height="4"/>
<rect x="327" y="88" width="2" height="4"/>
<rect x="329" y="89" width="1" height="4"/>
<rect x="330" y="90" width="2" height="4"/>
<rect x="332" y="91" width="1" height="4"/>
<rect x="333" y="92" width="1" height="4"/>
<rect x="334" y="93" width="1" height="4"/>
<rect x="335" y="94" width="1" height="4"/>
<rect x="336" y="96" width="1" height="4"/>
<rect x="337" y="98" width="1" height="4"/>
<rect x="338" y="100" width="1" height="4"/>
</g>
<polyline points="268.7,103.3 269.9,109.4 271,107" fill="none" stroke="#0a0aff" stroke-width="2" stroke-linejoin="round" stroke-linecap="round"/>
<polyline points="338.2,100 339.7,109.4 340.5,115 341.3,125 341.5,238 342.2,243 343.2,246 344.5,248.5 346,249.5" fill="none" stroke="#0a0aff" stroke-width="1.3" stroke-linejoin="round" stroke-linecap="round"/>
<!-- scale labels -->
<g style="font-family:'Liberation Mono',monospace" font-size="11" fill="#ff80ff" letter-spacing="0.5">
<text x="18" y="32">34.9V</text>
<text x="18" y="70">29.9</text>
<text x="18" y="120">24.9</text>
<text x="18" y="170">19.9</text>
<text x="18" y="220">14.9</text>
<text x="18" y="270">9.88</text>
<text x="58" y="419">-57.0u</text>
<text x="186" y="419">-17.0u</text>
<text x="319" y="419">23.0u</text>
<text x="447" y="419">63.0u</text>
<text x="575" y="419">103us</text>
</g>
<path d="M48.5,365 L49.5,369 M51.5,365.5 L51.5,369.5" stroke="#ff80ff" stroke-width="1"/>
<line x1="17" y1="203.5" x2="633" y2="203.5" stroke="#1464f0" stroke-width="1" stroke-dasharray="10 2"/>
<line x1="17" y1="239.5" x2="633" y2="239.5" stroke="#1464f0" stroke-width="1" stroke-dasharray="5 2"/>
<line x1="163.5" y1="23" x2="163.5" y2="397" stroke="#0c2a94" stroke-width="1" stroke-dasharray="10 1.5"/>
<line x1="164.5" y1="23" x2="164.5" y2="397" stroke="#0c2a94" stroke-width="1" stroke-dasharray="6 1.5" stroke-dashoffset="3"/>
<!-- channel labels -->
<rect x="17" y="228" width="31" height="17" fill="#fff"/>
<rect x="17" y="308" width="40" height="18" fill="#fff"/>
<rect x="17" y="359" width="31" height="18" fill="#fff"/>
<path d="M48.5,365 L49.5,369 M51.5,365.5 L51.5,369.5" stroke="#ff80ff" stroke-width="1"/>
<g style="font-family:'DejaVu Sans Mono',monospace" font-size="15">
<text x="19" y="244.4" fill="#1010f0">VIN</text>
<text x="19" y="323.4" fill="#d4a017">GATE</text>
<text x="19" y="375.4" fill="#cc00ff">OUT</text>
</g>
<!-- left markers -->
<text x="7.6" y="163" font-size="11.5" fill="#1010f0" transform="translate(7.6 163) scale(1.1 1) translate(-7.6 -163)">T</text>
<path d="M11,166 L16,170.5 L11,175 Z" fill="#1010f0"/>
<!-- ch1 marker -->
<g fill="none" stroke="#1010f0" stroke-width="1">
<path d="M11,239.5 H7.5 V247 M3,247.5 H12 M4.5,249.5 H10.5 M6,251.5 H9"/>
</g>
<path d="M11,235 L16,239.5 L11,244 Z" fill="#1010f0"/>
<text x="0" y="243.5" font-size="12.5" fill="#1010f0">1</text>
<!-- ch3 marker -->
<g fill="none" stroke="#d4a017" stroke-width="1">
<path d="M11,318.5 H7.5 V326 M3,326.5 H12 M4.5,328.5 H10.5 M6,330.5 H9"/>
</g>
<path d="M11,314 L16,318.5 L11,323 Z" fill="#d4a017"/>
<text x="-0.6" y="323" font-size="12.5" fill="#d4a017">3</text>
<!-- ch2 marker -->
<path d="M-1,362.5 H13 Q15.5,362.5 15.5,365 V383 Q15.5,385.5 13,385.5 H-1 Z" fill="#ff99ff" stroke="#dd22dd" stroke-width="1"/>
<g fill="none" stroke="#cc00ff" stroke-width="1">
<path d="M11,370.5 H7.5 V378 M3,378.5 H12 M4.5,380.5 H10.5 M6,382.5 H9"/>
</g>
<path d="M11,365.5 L15.8,370 L11,374.5 Z" fill="#cc00ff"/>
<text x="-0.6" y="374.6" font-size="12.5" fill="#cc00ff">2</text>

<!-- top markers -->
<path d="M258.5,23 L269,23 L263.7,28.5 Z" fill="#1464f0"/>
<path d="M333,23.5 L342,23.5 L337.5,28 Z" fill="#fff" stroke="#1464f0" stroke-width="1.2"/>
<!-- Y labels -->
<path d="M632.5,203.5 L642.5,193.5 H657 V213.5 H642.5 Z" fill="#fff" stroke="#1464f0" stroke-width="1.2"/>
<path d="M632.5,239.5 L642.5,229.5 H657 V249.5 H642.5 Z" fill="#fff" stroke="#1464f0" stroke-width="1.2"/>
<text x="641.5" y="209" font-size="13" fill="#1464f0">Y2</text>
<text x="641.5" y="245" font-size="13" fill="#1464f0">Y1</text>
<rect x="657" y="190" width="1" height="62" fill="#000"/>
<!-- X2 label -->
<path d="M154.5,421 V405.7 L164,396.6 L174.5,405.7 V421" fill="#fff" stroke="#1464f0" stroke-width="1.2"/>
<rect x="153.5" y="405.5" width="1.5" height="15.5" fill="#1464f0"/>
<text x="156.5" y="418" font-size="13" fill="#1464f0">X2</text>

<!-- bottom -->
<text x="2.5" y="436" font-size="13" fill="#1a1a1a">测量菜单</text>
</svg>

<!-- right panel -->
<div id="tab"><div class="grip" style="left:3px"></div><div class="t">测量</div><div class="grip" style="left:94px"></div></div>
<div id="obtn"><svg width="33" height="29" style="position:absolute;left:-1px;top:0">
<rect x="10.6" y="6.7" width="11.8" height="12.4" fill="none" stroke="#222" stroke-width="1.2"/>
<rect x="13.3" y="9" width="6.6" height="1" fill="#222"/>
<rect x="13.3" y="12" width="6.6" height="1" fill="#222"/>
<rect x="13.3" y="15" width="6.6" height="1" fill="#222"/>
</svg></div>
<div id="panel">
 <div class="meas" style="top:5px"><div class="l">最大电平<span class="hw">(</span><span class="hw" style="color:#0000ff">1</span><span class="hw">)</span><span class="hw">:</span></div><div class="v">35.3V</div><div class="sep"></div></div>
 <div class="meas" style="top:45px"><div class="l">最小电平<span class="hw">(</span><span class="hw" style="color:#0000ff">1</span><span class="hw">)</span><span class="hw">:</span></div><div class="v">-2.9V</div><div class="sep"></div></div>
 <div class="meas" style="top:85px"><div class="l">最大电平<span class="hw">(</span><span class="hw" style="color:#cc00ff">2</span><span class="hw">)</span><span class="hw">:</span></div><div class="v">10.7V</div><div class="sep"></div></div>
 <div class="meas" style="top:125px"><div class="l">最小电平<span class="hw">(</span><span class="hw" style="color:#cc00ff">2</span><span class="hw">)</span><span class="hw">:</span></div><div class="v">-2.2V</div><div class="sep"></div></div>
 <div class="meas" style="top:165px"><div class="l">最大电平<span class="hw">(</span><span class="hw" style="color:#d4a017">3</span><span class="hw">)</span><span class="hw">:</span></div><div class="v">13.3V</div><div class="sep"></div></div>
 <div class="meas" style="top:205px"><div class="l">最小电平<span class="hw">(</span><span class="hw" style="color:#d4a017">3</span><span class="hw">)</span><span class="hw">:</span></div><div class="v">-2.0V</div><div class="sep"></div></div>
 <div class="meas" style="top:245px"><div class="sep"></div></div>
 <svg class="abs" style="left:62px;top:258px" width="12" height="12"><path d="M1.5,6 H10.5 M6,1.5 V10.5" stroke="#111" stroke-width="2.4"/></svg>
</div>

<div class="abs" style="left:765px;top:50px;width:34px;height:1px;background:#a4a4a4"></div>
<!-- bottom buttons -->
<div class="btn up" style="left:3px;width:20px"><svg width="12" height="11" style="left:4px;margin-left:0;top:12px"><path d="M5,0 L10.5,5.5 H7.5 V10 H3.5 V5.5 H0 Z" fill="#111"/></svg></div>
<div class="btn" style="left:26px"><div class="tx">添加测量</div><svg width="26" height="14"><path d="M6,0 H19 V5 H25 L12.5,13 L0,5 H6 Z" fill="#1a1a1a"/></svg></div>
<div class="btn dis" style="left:155px"><div class="tx">编辑测量</div><svg width="26" height="14"><path d="M6,0 H19 V5 H25 L12.5,13 L0,5 H6 Z" fill="#8c8c8c"/></svg></div>
<div class="btn" style="left:284px"><div class="tx">清除测量值</div><svg width="26" height="14"><path d="M6,0 H19 V5 H25 L12.5,13 L0,5 H6 Z" fill="#1a1a1a"/></svg></div>
<div class="btn" style="left:413px"><div class="tx">统计信息</div><svg width="26" height="14"><path d="M6,0 H19 V5 H25 L12.5,13 L0,5 H6 Z" fill="#1a1a1a"/></svg></div>
<div class="btn" style="left:542px"><div class="tx">阈值</div><svg width="26" height="14"><path d="M6,0 H19 V5 H25 L12.5,13 L0,5 H6 Z" fill="#1a1a1a"/></svg></div>
<div class="btn pink" style="left:671px"><div class="tx" style="top:1.5px;line-height:17px">测量窗口<br>自动选择</div>
<svg width="24" height="20" style="left:0;margin-left:0;top:0"><path d="M13.5,2.6 A5.9,5.9 0 1 1 8.2,11.2" fill="none" stroke="#ff6cff" stroke-width="2.5"/><path d="M2.2,10 L6.2,4.4 L10.6,10 Z" fill="#ff6cff"/></svg></div>
</body></html>
